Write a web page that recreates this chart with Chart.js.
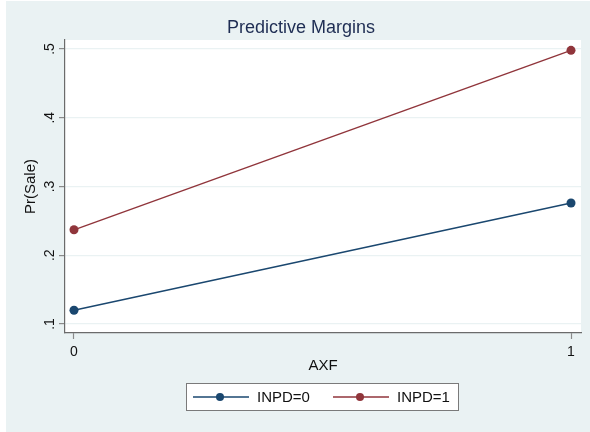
<!DOCTYPE html>
<html>
<head>
<meta charset="utf-8">
<script src="https://cdn.jsdelivr.net/npm/chart.js@4/dist/chart.umd.min.js"></script>
<style>
  html, body { margin: 0; padding: 0; background: #fff; }
  #wrap { width: 590px; height: 432px; position: relative; }
</style>
</head>
<body>
<div id="wrap"><canvas id="chart"></canvas></div>
<script>
// Data
const axfValues = [0, 1];
const seriesNames = ['INPD=0', 'INPD=1'];
const inpd0 = [0.120, 0.276];
const inpd1 = [0.237, 0.498];
const seriesColors = ['#1A476F', '#90353B'];

const yTickValues = [0.1, 0.2, 0.3, 0.4, 0.5];
const yTickLabels = ['.1', '.2', '.3', '.4', '.5'];
const xTickValues = [0, 1];
const xTickLabels = ['0', '1'];

const FONT = 'Arial, "Liberation Sans", sans-serif';
const BG = '#EAF2F3';

// Stata-like background, plot region, title and boxed legend
const stataFrame = {
    id: 'stataFrame',
    beforeDraw(chart) {
        const { ctx, chartArea } = chart;
        ctx.save();
        ctx.fillStyle = '#ffffff';
        ctx.fillRect(0, 0, chart.width, chart.height);
        ctx.fillStyle = BG;
        ctx.fillRect(6, 1, chart.width - 6, chart.height - 1);
        ctx.fillStyle = '#ffffff';
        ctx.fillRect(chartArea.left, chartArea.top,
            chartArea.right - chartArea.left, chartArea.bottom - chartArea.top);
        ctx.restore();
    },
    afterDraw(chart) {
        const { ctx } = chart;
        ctx.save();
        // title
        ctx.fillStyle = '#1E2D53';
        ctx.font = '18px ' + FONT;
        ctx.textAlign = 'center';
        ctx.textBaseline = 'middle';
        ctx.fillText('Predictive Margins', 301, 28);

        // legend box
        const box = { x: 186.5, y: 383.5, w: 272, h: 27 };
        ctx.fillStyle = '#ffffff';
        ctx.fillRect(box.x, box.y, box.w, box.h);
        ctx.strokeStyle = '#7a7a7a';
        ctx.lineWidth = 1;
        ctx.strokeRect(box.x, box.y, box.w, box.h);

        const cy = box.y + box.h / 2;
        const starts = [193, 333];
        chart.data.datasets.forEach((ds, i) => {
            const x0 = starts[i];
            ctx.strokeStyle = ds.borderColor;
            ctx.lineWidth = 1.3;
            ctx.beginPath();
            ctx.moveTo(x0, cy);
            ctx.lineTo(x0 + 56, cy);
            ctx.stroke();
            ctx.fillStyle = ds.borderColor;
            ctx.beginPath();
            ctx.arc(x0 + 27, cy, 4, 0, Math.PI * 2);
            ctx.fill();
            ctx.fillStyle = '#111';
            ctx.font = '15px ' + FONT;
            ctx.textAlign = 'left';
            ctx.textBaseline = 'middle';
            ctx.fillText(ds.label, x0 + 64, cy + 0.5);
        });
        ctx.restore();
    }
};

function makeSeries(values) {
    return axfValues.map((x, i) => ({ x: x, y: values[i] }));
}

const datasets = [inpd0, inpd1].map((vals, i) => ({
    label: seriesNames[i],
    data: makeSeries(vals),
    borderColor: seriesColors[i],
    backgroundColor: seriesColors[i],
    borderWidth: 1.4,
    pointRadius: 4.5,
    pointHoverRadius: 4.5,
    pointBorderWidth: 0,
    tension: 0
}));

new Chart(document.getElementById('chart'), {
    type: 'line',
    data: { datasets: datasets },
    plugins: [stataFrame],
    options: {
        responsive: true,
        maintainAspectRatio: false,
        animation: false,
        events: [],
        layout: { padding: { left: 0, right: 9, top: 40, bottom: 57 } },
        plugins: {
            legend: { display: false },
            title: { display: false },
            tooltip: { enabled: false }
        },
        scales: {
            x: {
                type: 'linear',
                min: -0.0181,
                max: 1.0201,
                afterBuildTicks: scale => {
                    scale.ticks = xTickValues.map(v => ({ value: v }));
                },
                afterFit: scale => { scale.height = 42; },
                ticks: {
                    callback: (v, i) => xTickLabels[i],
                    color: '#111',
                    font: { family: FONT, size: 14 },
                    padding: 5,
                    maxRotation: 0
                },
                grid: {
                    drawOnChartArea: false,
                    drawTicks: true,
                    tickLength: 6,
                    tickColor: '#8a8a8a',
                    tickWidth: 1.2
                },
                border: { color: '#6b6b6b', width: 1.2 },
                title: {
                    display: true,
                    text: 'AXF',
                    color: '#111',
                    font: { family: FONT, size: 15 },
                    padding: { top: 0, bottom: 0 }
                }
            },
            y: {
                type: 'linear',
                min: 0.0869,
                max: 0.513,
                afterBuildTicks: scale => {
                    scale.ticks = yTickValues.map(v => ({ value: v }));
                },
                afterFit: scale => { scale.width = 65; },
                ticks: {
                    callback: (v, i) => yTickLabels[i],
                    color: '#111',
                    font: { family: FONT, size: 14 },
                    padding: 3,
                    minRotation: 90,
                    maxRotation: 90,
                    crossAlign: 'center'
                },
                grid: {
                    color: BG,
                    lineWidth: 1.2,
                    drawTicks: true,
                    tickLength: 6,
                    tickColor: '#8a8a8a',
                    tickWidth: 1.2
                },
                border: { color: '#6b6b6b', width: 1.2 },
                title: {
                    display: true,
                    text: 'Pr(Sale)',
                    color: '#111',
                    font: { family: FONT, size: 15 },
                    padding: { top: 22, bottom: 0 }
                }
            }
        }
    }
});
</script>
</body>
</html>
